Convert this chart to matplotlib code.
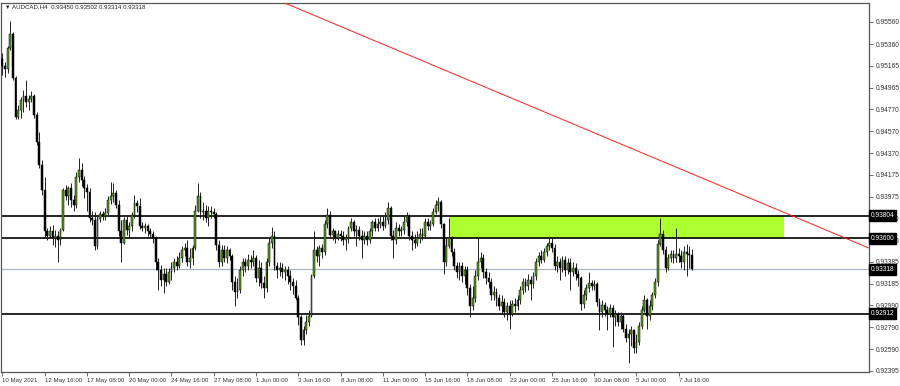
import numpy as np
import matplotlib
matplotlib.use("Agg")
import matplotlib.pyplot as plt
import matplotlib.transforms as mtransforms

# AUDCAD H4, 262 bars from 10 May 2021 00:00
first_open = 0.9522
closes = [0.9516, 0.9513, 0.9532, 0.9545, 0.9505, 0.9470, 0.9476, 0.9485, 0.9489, 0.9483, 0.9486, 0.9489, 0.9472, 0.9447, 0.9426, 0.9404,
          0.9366, 0.9362, 0.9366, 0.9360, 0.9362, 0.9358, 0.9367, 0.9404, 0.9398, 0.9405, 0.9395, 0.9390, 0.9415, 0.9422, 0.9413, 0.9405,
          0.9402, 0.9378, 0.9376, 0.9353, 0.9377, 0.9382, 0.9380, 0.9383, 0.9395, 0.9398, 0.9401, 0.9390, 0.9366, 0.9356, 0.9376, 0.9367,
          0.9371, 0.9381, 0.9392, 0.9389, 0.9371, 0.9369, 0.9371, 0.9366, 0.9364, 0.9360, 0.9338, 0.9331, 0.9322, 0.9327, 0.9320, 0.9329,
          0.9333, 0.9338, 0.9335, 0.9342, 0.9349, 0.9351, 0.9338, 0.9342, 0.9351, 0.9385, 0.9398, 0.9384, 0.9385, 0.9378, 0.9385, 0.9384,
          0.9382, 0.9354, 0.9338, 0.9349, 0.9342, 0.9349, 0.9344, 0.9320, 0.9311, 0.9313, 0.9331, 0.9338, 0.9335, 0.9340, 0.9338, 0.9342,
          0.9324, 0.9333, 0.9319, 0.9315, 0.9338, 0.9356, 0.9362, 0.9335, 0.9331, 0.9333, 0.9329, 0.9331, 0.9326, 0.9320, 0.9317, 0.9306,
          0.9288, 0.9268, 0.9277, 0.9284, 0.9289, 0.9326, 0.9349, 0.9344, 0.9351, 0.9347, 0.9373, 0.9381, 0.9363, 0.9366, 0.9360, 0.9364,
          0.9362, 0.9358, 0.9360, 0.9369, 0.9375, 0.9366, 0.9367, 0.9362, 0.9358, 0.9362, 0.9358, 0.9366, 0.9375, 0.9369, 0.9373, 0.9375,
          0.9371, 0.9376, 0.9387, 0.9362, 0.9358, 0.9369, 0.9366, 0.9367, 0.9375, 0.9380, 0.9362, 0.9358, 0.9356, 0.9360, 0.9364, 0.9362,
          0.9375, 0.9371, 0.9373, 0.9384, 0.9390, 0.9393, 0.9373, 0.9338, 0.9353, 0.9360, 0.9347, 0.9335, 0.9329, 0.9335, 0.9326, 0.9331,
          0.9315, 0.9298, 0.9306, 0.9326, 0.9338, 0.9342, 0.9329, 0.9324, 0.9320, 0.9308, 0.9311, 0.9306, 0.9298, 0.9302, 0.9293, 0.9298,
          0.9291, 0.9300, 0.9298, 0.9304, 0.9313, 0.9320, 0.9317, 0.9322, 0.9318, 0.9326, 0.9338, 0.9344, 0.9340, 0.9347, 0.9353, 0.9356,
          0.9351, 0.9335, 0.9338, 0.9333, 0.9340, 0.9331, 0.9337, 0.9329, 0.9333, 0.9327, 0.9324, 0.9300, 0.9308, 0.9315, 0.9319, 0.9317,
          0.9318, 0.9302, 0.9293, 0.9299, 0.9295, 0.9291, 0.9297, 0.9288, 0.9291, 0.9284, 0.9289, 0.9278, 0.9269, 0.9273, 0.9277, 0.9260,
          0.9266, 0.9280, 0.9295, 0.9304, 0.9289, 0.9298, 0.9308, 0.9320, 0.9355, 0.9364, 0.9349, 0.9333, 0.9342, 0.9346, 0.9342, 0.9346,
          0.9344, 0.9338, 0.9347, 0.9346, 0.93450, 0.93318]
highs = [0.9528, 0.9520, 0.9534, 0.9557, 0.9547, 0.9507, 0.9481, 0.9488, 0.9494, 0.9503, 0.9490, 0.9493, 0.9491, 0.9474, 0.9456, 0.9431,
         0.9415, 0.9369, 0.9371, 0.9372, 0.9367, 0.9366, 0.9369, 0.9405, 0.9408, 0.9407, 0.9410, 0.9399, 0.9420, 0.9433, 0.9428, 0.9416,
         0.9409, 0.9405, 0.9385, 0.9384, 0.9380, 0.9385, 0.9385, 0.9387, 0.9398, 0.9411, 0.9410, 0.9404, 0.9395, 0.9376, 0.9379, 0.9380,
         0.9375, 0.9384, 0.9399, 0.9395, 0.9396, 0.9375, 0.9374, 0.9373, 0.9369, 0.9366, 0.9362, 0.9342, 0.9336, 0.9333, 0.9333, 0.9333,
         0.9338, 0.9342, 0.9344, 0.9347, 0.9353, 0.9356, 0.9358, 0.9351, 0.9354, 0.9390, 0.9410, 0.9402, 0.9393, 0.9390, 0.9389, 0.9389,
         0.9387, 0.9384, 0.9358, 0.9354, 0.9354, 0.9353, 0.9351, 0.9346, 0.9326, 0.9324, 0.9335, 0.9342, 0.9342, 0.9346, 0.9345, 0.9349,
         0.9345, 0.9340, 0.9338, 0.9326, 0.9342, 0.9360, 0.9370, 0.9366, 0.9338, 0.9338, 0.9337, 0.9335, 0.9335, 0.9331, 0.9324, 0.9322,
         0.9308, 0.9290, 0.9280, 0.9290, 0.9295, 0.9327, 0.9366, 0.9353, 0.9354, 0.9355, 0.9376, 0.9387, 0.9385, 0.9369, 0.9367, 0.9367,
         0.9367, 0.9366, 0.9364, 0.9371, 0.9378, 0.9376, 0.9372, 0.9371, 0.9367, 0.9366, 0.9366, 0.9369, 0.9376, 0.9378, 0.9378, 0.9380,
         0.9381, 0.9384, 0.9393, 0.9389, 0.9367, 0.9375, 0.9373, 0.9371, 0.9380, 0.9384, 0.9382, 0.9366, 0.9364, 0.9366, 0.9369, 0.9369,
         0.9378, 0.9378, 0.9376, 0.9387, 0.9395, 0.9397, 0.9395, 0.9374, 0.9360, 0.9378, 0.9362, 0.9351, 0.9338, 0.9338, 0.9338, 0.9335,
         0.9335, 0.9318, 0.9317, 0.9331, 0.9360, 0.9347, 0.9346, 0.9333, 0.9329, 0.9324, 0.9317, 0.9315, 0.9309, 0.9308, 0.9306, 0.9302,
         0.9304, 0.9304, 0.9306, 0.9308, 0.9317, 0.9324, 0.9324, 0.9327, 0.9326, 0.9329, 0.9342, 0.9347, 0.9349, 0.9351, 0.9356, 0.9360,
         0.9360, 0.9355, 0.9344, 0.9342, 0.9344, 0.9344, 0.9342, 0.9342, 0.9338, 0.9337, 0.9331, 0.9326, 0.9313, 0.9318, 0.9329, 0.9322,
         0.9322, 0.9320, 0.9306, 0.9304, 0.9302, 0.9298, 0.9300, 0.9299, 0.9295, 0.9293, 0.9293, 0.9291, 0.9282, 0.9278, 0.9280, 0.9278,
         0.9273, 0.9284, 0.9298, 0.9308, 0.9306, 0.9304, 0.9311, 0.9324, 0.9358, 0.9378, 0.9367, 0.9353, 0.9346, 0.9349, 0.9349, 0.9369,
         0.9351, 0.9349, 0.9353, 0.9355, 0.9353, 0.93502]
lows = [0.9508, 0.9506, 0.9510, 0.9531, 0.9503, 0.9468, 0.9468, 0.9469, 0.9474, 0.9479, 0.9476, 0.9483, 0.9469, 0.9444, 0.9424, 0.9399,
        0.9361, 0.9358, 0.9360, 0.9354, 0.9352, 0.9338, 0.9354, 0.9366, 0.9395, 0.9390, 0.9388, 0.9385, 0.9387, 0.9411, 0.9407, 0.9396,
        0.9385, 0.9375, 0.9372, 0.9349, 0.9350, 0.9375, 0.9376, 0.9376, 0.9381, 0.9391, 0.9393, 0.9387, 0.9362, 0.9338, 0.9355, 0.9363,
        0.9360, 0.9366, 0.9378, 0.9384, 0.9368, 0.9366, 0.9365, 0.9362, 0.9360, 0.9356, 0.9331, 0.9313, 0.9317, 0.9310, 0.9317, 0.9318,
        0.9322, 0.9329, 0.9331, 0.9333, 0.9338, 0.9344, 0.9335, 0.9333, 0.9336, 0.9349, 0.9384, 0.9378, 0.9376, 0.9375, 0.9371, 0.9378,
        0.9378, 0.9349, 0.9334, 0.9335, 0.9338, 0.9337, 0.9340, 0.9313, 0.9298, 0.9306, 0.9310, 0.9326, 0.9329, 0.9331, 0.9333, 0.9335,
        0.9320, 0.9317, 0.9315, 0.9306, 0.9311, 0.9335, 0.9351, 0.9331, 0.9324, 0.9326, 0.9324, 0.9322, 0.9318, 0.9313, 0.9309, 0.9304,
        0.9281, 0.9263, 0.9263, 0.9273, 0.9280, 0.9288, 0.9324, 0.9338, 0.9335, 0.9342, 0.9345, 0.9369, 0.9360, 0.9358, 0.9356, 0.9358,
        0.9357, 0.9354, 0.9349, 0.9356, 0.9366, 0.9362, 0.9353, 0.9358, 0.9342, 0.9355, 0.9354, 0.9356, 0.9362, 0.9366, 0.9366, 0.9369,
        0.9367, 0.9369, 0.9373, 0.9358, 0.9342, 0.9355, 0.9362, 0.9362, 0.9364, 0.9371, 0.9358, 0.9349, 0.9351, 0.9353, 0.9356, 0.9358,
        0.9360, 0.9367, 0.9367, 0.9371, 0.9382, 0.9385, 0.9369, 0.9327, 0.9335, 0.9351, 0.9344, 0.9331, 0.9324, 0.9322, 0.9320, 0.9318,
        0.9308, 0.9288, 0.9295, 0.9302, 0.9322, 0.9333, 0.9324, 0.9318, 0.9315, 0.9304, 0.9304, 0.9298, 0.9295, 0.9291, 0.9288, 0.9286,
        0.9278, 0.9289, 0.9293, 0.9295, 0.9300, 0.9309, 0.9311, 0.9313, 0.9304, 0.9315, 0.9322, 0.9335, 0.9337, 0.9338, 0.9344, 0.9349,
        0.9347, 0.9331, 0.9329, 0.9322, 0.9329, 0.9326, 0.9327, 0.9313, 0.9326, 0.9322, 0.9317, 0.9295, 0.9297, 0.9304, 0.9311, 0.9313,
        0.9313, 0.9298, 0.9277, 0.9288, 0.9289, 0.9277, 0.9288, 0.9261, 0.9280, 0.9280, 0.9278, 0.9275, 0.9266, 0.9247, 0.9262, 0.9256,
        0.9256, 0.9263, 0.9278, 0.9293, 0.9278, 0.9286, 0.9295, 0.9306, 0.9317, 0.9353, 0.9346, 0.9329, 0.9331, 0.9338, 0.9337, 0.9338,
        0.9338, 0.9333, 0.9331, 0.9326, 0.9333, 0.93314]
opens = [first_open] + closes[:-1]

date_labels = ["10 May 2021", "12 May 16:00", "17 May 08:00", "20 May 00:00", "24 May 16:00", "27 May 08:00",
               "1 Jun 00:00", "3 Jun 16:00", "8 Jun 08:00", "11 Jun 00:00", "15 Jun 16:00", "18 Jun 08:00",
               "23 Jun 00:00", "25 Jun 16:00", "30 Jun 08:00", "5 Jul 00:00", "7 Jul 16:00"]
label_every = 16
price_ticks = [0.95560, 0.95360, 0.95165, 0.94965, 0.94770, 0.94570, 0.94370, 0.94175, 0.93975,
               0.93780, 0.93580, 0.93385, 0.93185, 0.92990, 0.92790, 0.92590, 0.92395]

levels = [0.93804, 0.93600, 0.92912]
bid = 0.93318
zone = (169.2, 296.0, 0.93600, 0.93804)      # bar from, bar to, low, high
trend = [(106.0, 0.95741), (319.0, 0.93600)]  # two anchor points (bar, price)
header = "AUDCAD,H4  0.93450 0.93502 0.93314 0.93318"

plt.rcParams['font.family'] = ['Liberation Sans', 'DejaVu Sans']
fig = plt.figure(figsize=(9, 3.86), dpi=100)
ax = fig.add_axes([1 / 900, 14 / 386, 868 / 900, 369 / 386])

x = np.arange(len(closes))
o = np.array(opens)
c = np.array(closes)
h = np.array(highs)
l = np.array(lows)

# zone first so candles sit on top
ax.fill_between([zone[0], zone[1]], zone[2], zone[3], color='#adff2f', lw=0, zorder=1)

for lv in levels:
    ax.axhline(lv, color='black', lw=1.2, zorder=2)
ax.axhline(bid, color='#a3b0c0', lw=0.8, zorder=2)

ax.vlines(x, l, h, color='#222222', lw=0.7, zorder=3)
up = c >= o
body = np.where(np.abs(c - o) < 0.00002, 0.00002, c - o)
ax.bar(x[up], body[up], bottom=o[up], width=0.7, color='#5c9f1c', edgecolor='black', lw=0.35, zorder=4)
ax.bar(x[~up], body[~up], bottom=o[~up], width=0.7, color='black', edgecolor='black', lw=0.35, zorder=4)

# trend line through the two anchors, extended to the right edge
slope = (trend[1][1] - trend[0][1]) / (trend[1][0] - trend[0][0])
xs = np.array([trend[0][0] - 5, 340])
ax.plot(xs, trend[0][1] + slope * (xs - trend[0][0]), color='#ff2020', lw=0.7, zorder=5)

ax.set_xlim(-0.5, 328)
ax.set_ylim(0.923855, 0.957323)

for s in ax.spines.values():
    s.set_color('#555555')
    s.set_linewidth(0.9)

ax.yaxis.tick_right()
ax.set_yticks(price_ticks)
ax.set_yticklabels(["%.5f" % p for p in price_ticks])
ax.tick_params(axis='y', direction='out', length=3, width=0.6, color='#555555', pad=2,
               labelsize=4.8, labelcolor='#333333')

ticks = x[::label_every]
ax.set_xticks(ticks)
ax.set_xticklabels(date_labels)
ax.tick_params(axis='x', direction='out', length=3, width=0.6, color='#555555', pad=1.5,
               labelsize=4.4, labelcolor='#333333')
for t in ax.get_xticklabels():
    t.set_horizontalalignment('left')

# price boxes on the scale
trans = mtransforms.blended_transform_factory(ax.transAxes, ax.transData)
for p in levels + [bid]:
    ax.text(1.002, p, "%.5f" % p, transform=trans, ha='left', va='center', fontsize=4.8, color='white',
            bbox=dict(boxstyle='square,pad=0.3', facecolor='black', edgecolor='black'), zorder=10, clip_on=False)

fig.text(5 / 900, 1 - 7 / 386, "\u25bc", fontsize=4, va='center', ha='left', color='#222222')
fig.text(12 / 900, 1 - 7 / 386, header, fontsize=4.4, va='center', ha='left', color='#222222')

fig.savefig("out.png", dpi=100, facecolor='white')
